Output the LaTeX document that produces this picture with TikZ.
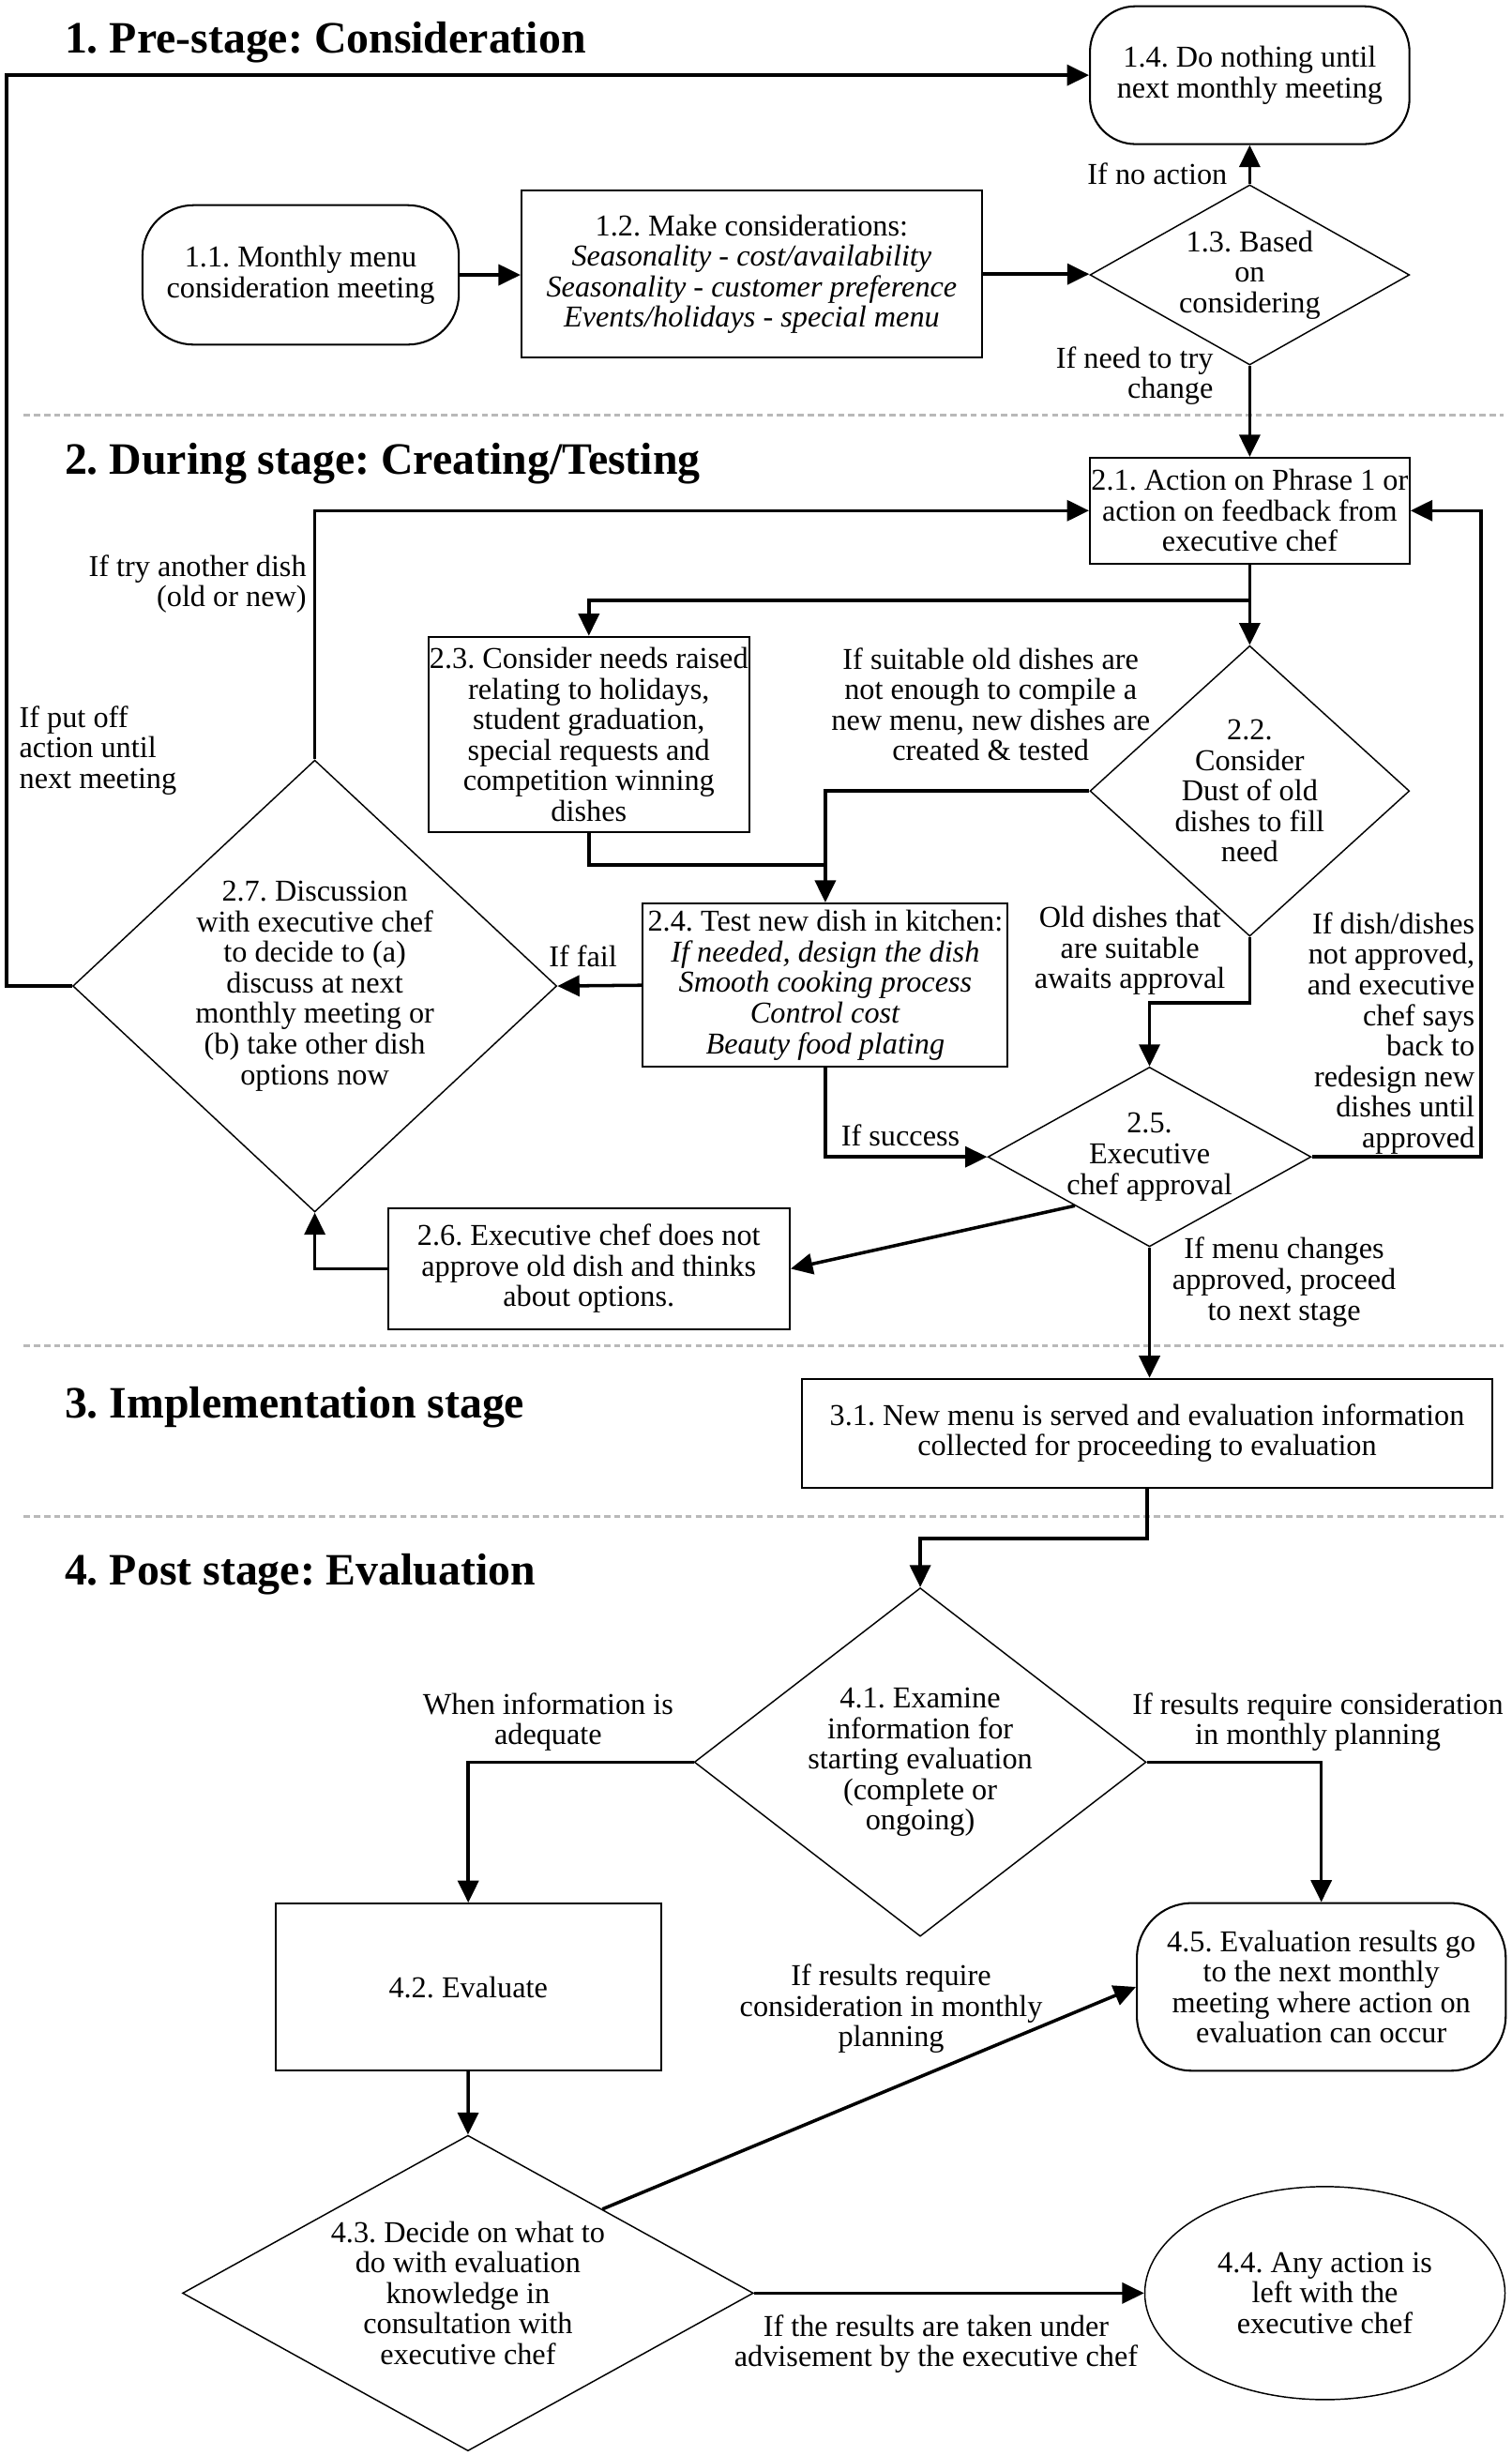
\documentclass[tikz,border=0pt]{standalone}
\usepackage{fontspec}
\setmainfont{Liberation Serif}
\frenchspacing
\usetikzlibrary{arrows.meta,shapes.geometric,calc}

\tikzset{
  box/.style={draw, line width=0.7pt, align=center, inner sep=0pt},
  term/.style={draw, line width=0.7pt, rounded corners=6.5mm, align=center, inner sep=0pt},
  decide/.style={draw, diamond, line width=0.5pt, align=center, inner sep=0pt},
  flow/.style={line width=1.2pt, -{Triangle[length=8pt,width=7.5pt]}},
  link/.style={line width=1.2pt},
  cond/.style={align=center, inner sep=0pt},
  stagetitle/.style={anchor=base west, inner sep=0pt, font=\fontsize{16.3}{18}\selectfont\bfseries},
  divider/.style={draw=gray!55, line width=0.9pt, dash pattern=on 2.3pt off 1.4pt}
}

\begin{document}
\begin{tikzpicture}[x=0.2mm, y=-0.2mm, font=\fontsize{11}{11.1}\selectfont]
\useasboundingbox (0,0) rectangle (965,1568);

% stage titles and dividers
\node[stagetitle] (s1) at (41,34) {1. Pre-stage: Consideration};
\node[stagetitle] (s2) at (41,303) {2. During stage: Creating/Testing};
\node[stagetitle] (s3) at (41,905) {3. Implementation stage};
\node[stagetitle] (s4) at (41,1012) {4. Post stage: Evaluation};
\draw[divider] (15,265) -- (960,265);
\draw[divider] (15,859) -- (960,859);
\draw[divider] (15,968) -- (960,968);

% 1. pre-stage
\node[term, rounded corners=5.8mm, minimum width=40.8mm, minimum height=17.6mm] (t14) at (798,48) {1.4. Do nothing until\\next monthly meeting};
\node[term, minimum width=40.4mm, minimum height=17.8mm] (t11) at (192,175.5) {1.1. Monthly menu\\consideration meeting};
\node[box, minimum width=58.8mm, minimum height=21.3mm] (p12) at (480,175) {1.2. Make considerations:\\\textit{Seasonality - cost/availability}\\\textit{Seasonality - customer preference}\\\textit{Events/holidays - special menu}};
\node[decide, shape aspect=1.77, minimum width=40.8mm, minimum height=23mm] (d13) at (798,175.5) {1.3. Based\\on\\considering};

% 2. during stage
\node[box, minimum width=40.8mm, minimum height=13.5mm] (p21) at (798,326) {2.1. Action on Phrase 1 or\\action on feedback from\\executive chef};
\node[box, minimum width=41mm, minimum height=25mm] (p23) at (376,469) {2.3. Consider needs raised\\relating to holidays,\\student graduation,\\special requests and\\competition winning\\dishes};
\node[decide, shape aspect=1.1, minimum width=40.8mm, minimum height=37.1mm] (d22) at (798,505) {2.2.\\Consider\\Dust of old\\dishes to fill\\need};
\node[box, minimum width=46.6mm, minimum height=20.9mm] (p24) at (527,629) {2.4. Test new dish in kitchen:\\\textit{If needed, design the dish}\\\textit{Smooth cooking process}\\\textit{Control cost}\\\textit{Beauty food plating}};
\node[decide, shape aspect=1.07, minimum width=61.8mm, minimum height=57.7mm] (d27) at (201,629.5) {2.7. Discussion\\with executive chef\\to decide to (a)\\discuss at next\\monthly meeting or\\(b) take other dish\\options now};
\node[decide, shape aspect=1.8, minimum width=40.8mm, minimum height=22.7mm] (d25) at (734,738.6) {2.5.\\Executive\\chef approval};
\node[box, minimum width=51.3mm, minimum height=15.5mm] (p26) at (376,810) {2.6. Executive chef does not\\approve old dish and thinks\\about options.};

% 3. implementation
\node[box, minimum width=88.2mm, minimum height=13.9mm] (p31) at (732.5,915) {3.1. New menu is served and evaluation information\\collected for proceeding to evaluation};

% 4. post stage
\node[decide, shape aspect=1.3, minimum width=57.7mm, minimum height=44.5mm] (d41) at (587.6,1125) {4.1. Examine\\information for\\starting evaluation\\(complete or\\ongoing)};
\node[box, minimum width=49.2mm, minimum height=21.3mm] (p42) at (299,1268.6) {4.2. Evaluate};
\node[term, rounded corners=7mm, minimum width=47.1mm, minimum height=21.4mm] (t45) at (843.7,1268.5) {4.5. Evaluation results go\\to the next monthly\\meeting where action on\\evaluation can occur};
\node[decide, shape aspect=1.8, minimum width=72.9mm, minimum height=40.3mm] (d43) at (298.8,1464) {4.3. Decide on what to\\do with evaluation\\knowledge in\\consultation with\\executive chef};
\node[draw, ellipse, line width=0.5pt, align=center, inner sep=0pt, minimum width=46mm, minimum height=27.2mm] (e44) at (846,1464) {4.4. Any action is\\left with the\\executive chef};

% conditions
\node[cond] (c-noact) at (739,110.8) {If no action};
\node[cond, align=right, anchor=east] (c-try) at (775,240) {If need to try\\change};
\node[cond, align=right, anchor=east] (c-another) at (196,373) {If try another dish\\(old or new)};
\node[cond, align=left, anchor=west] (c-putoff) at (12,479.2) {If put off\\action until\\next meeting};
\node[cond] (c-suitable) at (632.6,449.7) {If suitable old dishes are\\not enough to compile a\\new menu, new dishes are\\created \& tested};
\node[cond] (c-fail) at (372.3,610.3) {If fail};
\node[cond] (c-old) at (721.5,607.1) {Old dishes that\\are suitable\\awaits approval};
\node[cond, align=right, anchor=east] (c-redesign) at (942,659.7) {If dish/dishes\\not approved,\\and executive\\chef says\\back to\\redesign new\\dishes until\\approved};
\node[cond] (c-success) at (575,725) {If success};
\node[cond] (c-proceed) at (820,818.5) {If menu changes\\approved, proceed\\to next stage};
\node[cond] (c-adequate) at (350,1099.3) {When information is\\adequate};
\node[cond] (c-monthly) at (841.5,1099.3) {If results require consideration\\in monthly planning};
\node[cond] (c-planning) at (569,1282.5) {If results require\\consideration in monthly\\planning};
\node[cond] (c-advise) at (597.7,1496.6) {If the results are taken under\\advisement by the executive chef};

% connectors
\draw[flow] (t11.east) -- (t11.east -| p12.west);
\draw[flow] (p12.east) -- (p12.east -| d13.west);
\draw[flow] (d13.north) -- (t14.south);
\draw[flow] (d13.south) -- (p21.north);
\draw[flow] (p21.south) -- (d22.north);
\coordinate (split21) at ($(p21.south)+(0,23)$);
\draw[flow] (split21) -| (p23.north);
\draw[flow] (d22.west) -| (p24.north);
\draw[link] (p23.south) |- ($(p24.north)+(0,-24)$);
\draw[flow] (p24.west) -- (d27.east);
\draw[flow] (d27.north) |- (p21.west);
\draw[flow] (d27.west) -- ++(-42,0) |- (t14.west);
\draw[flow] (d22.south) -- ++(0,42) -| (d25.north);
\draw[flow] (p24.south) |- (d25.west);
\draw[flow] (d25.east) -- ++(108,0) |- (p21.east);
\draw[flow] ($(d25.west)!0.54!(d25.south)$) -- (p26.east);
\draw[flow] (p26.west) -| (d27.south);
\draw[flow] (d25.south) -- (d25.south |- p31.north);
\draw[flow] (p31.south) -- ++(0,32) -| (d41.north);
\draw[flow] (d41.west) -| (p42.north);
\draw[flow] (d41.east) -| (t45.north);
\draw[flow] (p42.south) -- (d43.north);
\draw[flow] ($(d43.north)!0.47!(d43.east)$) -- (t45.west);
\draw[flow] (d43.east) -- (e44.west);
\end{tikzpicture}
\end{document}
